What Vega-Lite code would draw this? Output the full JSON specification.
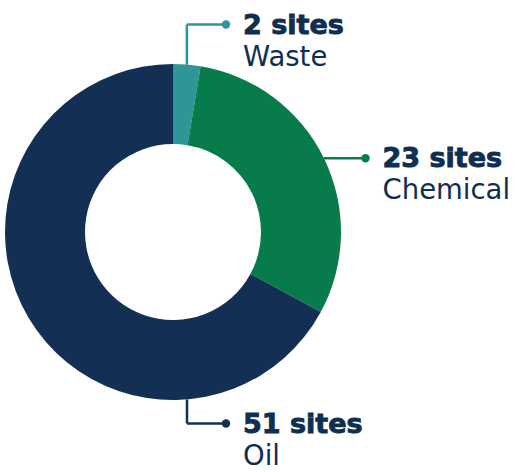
{
  "$schema": "https://vega.github.io/schema/vega-lite/v6.json",
  "width": 519,
  "height": 472,
  "autosize": {"type": "none"},
  "padding": 0,
  "background": "white",
  "config": {"view": {"stroke": null}},
  "data": {
    "values": [
      {"category": "Waste", "sites": 2},
      {"category": "Chemical", "sites": 23},
      {"category": "Oil", "sites": 51}
    ]
  },
  "transform": [
    {"window": [{"op": "sum", "field": "sites", "as": "cum"}], "sort": [{"field": "sites", "order": "ascending"}], "frame": [null, 0]},
    {"joinaggregate": [{"op": "sum", "field": "sites", "as": "total"}]},
    {"calculate": "2 * PI * (datum.cum - datum.sites / 2) / datum.total", "as": "mid"},
    {"calculate": "datum.category === 'Oil' ? 14 : 168 * sin(datum.mid)", "as": "ax"},
    {"calculate": "datum.category === 'Oil' ? -167.4 : 168 * cos(datum.mid)", "as": "ay"},
    {"calculate": "datum.category === 'Chemical' ? 192.5 : 53", "as": "px"},
    {"calculate": "datum.category === 'Waste' ? 207.5 : (datum.category === 'Oil' ? -191.5 : datum.ay)", "as": "py"},
    {"calculate": "datum.sites + ' sites'", "as": "headline"}
  ],
  "layer": [
    {
      "mark": {"type": "arc", "innerRadius": 88, "outerRadius": 168},
      "encoding": {
        "x": {"datum": 0, "type": "quantitative", "scale": {"domain": [-173, 346], "nice": false, "zero": false}, "axis": null},
        "y": {"datum": 0, "type": "quantitative", "scale": {"domain": [-240, 232], "nice": false, "zero": false}, "axis": null},
        "theta": {"field": "sites", "type": "quantitative", "stack": true},
        "order": {"field": "sites", "sort": "ascending"},
        "color": {"field": "category", "type": "nominal", "scale": {"domain": ["Waste", "Chemical", "Oil"], "range": ["#2f9597", "#077c4a", "#132f54"]}, "legend": null}
      }
    },
    {
      "mark": {"type": "rule", "strokeWidth": 2.5},
      "encoding": {
        "x": {"field": "ax", "type": "quantitative"},
        "y": {"field": "ay", "type": "quantitative"},
        "y2": {"field": "py"},
        "color": {"field": "category", "type": "nominal", "legend": null}
      }
    },
    {
      "mark": {"type": "rule", "strokeWidth": 2.5},
      "encoding": {
        "x": {"field": "ax", "type": "quantitative"},
        "x2": {"field": "px"},
        "y": {"field": "py", "type": "quantitative"},
        "color": {"field": "category", "type": "nominal", "legend": null}
      }
    },
    {
      "mark": {"type": "point", "filled": true, "size": 70, "opacity": 1},
      "encoding": {
        "x": {"field": "px", "type": "quantitative"},
        "y": {"field": "py", "type": "quantitative"},
        "color": {"field": "category", "type": "nominal", "legend": null}
      }
    },
    {
      "mark": {"type": "text", "align": "left", "baseline": "alphabetic", "dx": 17, "dy": 9, "font": "DejaVu Sans", "fontWeight": "bold", "fontSize": 27, "fill": "#0f2f52", "stroke": "#0f2f52", "strokeWidth": 0.9},
      "encoding": {
        "x": {"field": "px", "type": "quantitative"},
        "y": {"field": "py", "type": "quantitative"},
        "text": {"field": "headline"}
      }
    },
    {
      "mark": {"type": "text", "align": "left", "baseline": "alphabetic", "dx": 17, "dy": 41, "font": "DejaVu Sans", "fontWeight": 400, "fontSize": 27.5, "fill": "#0f2f52"},
      "encoding": {
        "x": {"field": "px", "type": "quantitative"},
        "y": {"field": "py", "type": "quantitative"},
        "text": {"field": "category"}
      }
    }
  ]
}
